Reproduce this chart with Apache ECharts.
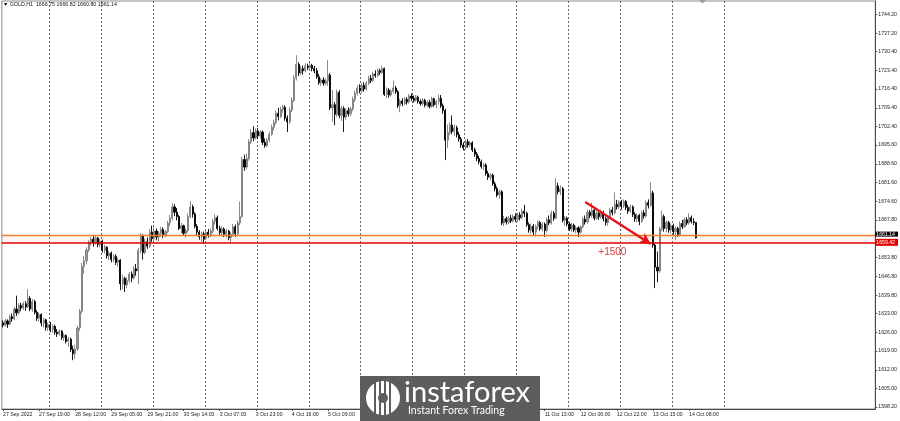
<!DOCTYPE html>
<html><head><meta charset="utf-8">
<script src="https://cdn.jsdelivr.net/npm/echarts@6/dist/echarts.min.js"></script>
<style>html,body{margin:0;padding:0;background:#fff}#c{width:900px;height:421px}</style>
</head><body><div id="c"></div><script>
// ---- DATA ----
const symbolTitle = 'GOLD,H1';
const lastOHLC = ['1666.75', '1666.82', '1660.80', '1661.14'];
const firstLabel = '27 Sep 2022';
// trading days: [label, first hour, last hour]
const tradingDays = [['27 Sep',3,23],['28 Sep',1,23],['29 Sep',1,23],['30 Sep',1,23],['3 Oct',1,23],['4 Oct',1,23],['5 Oct',1,23],['6 Oct',1,23],['7 Oct',1,23],['10 Oct',1,23],['11 Oct',1,23],['12 Oct',1,23],['13 Oct',1,23],['14 Oct',1,23],['17 Oct',1,23],['18 Oct',1,23],['19 Oct',1,23]];
const visibleBars = 387;
// candles: [open, close, low, high]
const sep27 = [[1629.5,1628.6,1627.8,1630.4],[1628.6,1630.2,1628.0,1631.0],[1630.2,1629.0,1627.6,1630.8],[1629.0,1631.8,1628.6,1632.5],[1631.8,1631.0,1629.9,1633.0],[1631.0,1634.6,1630.5,1635.4],[1634.6,1633.2,1632.0,1639.6],[1633.2,1636.0,1632.6,1636.8],[1636.0,1635.0,1633.8,1637.0],[1635.0,1636.6,1634.2,1637.4],[1636.6,1635.4,1634.0,1637.6],[1635.4,1638.6,1635.0,1642.0],[1638.6,1634.6,1633.8,1639.4],[1634.6,1637.4,1633.6,1638.4],[1637.4,1633.4,1632.6,1638.0],[1633.4,1631.2,1630.2,1634.2],[1631.2,1632.6,1630.0,1633.4],[1632.6,1629.4,1628.2,1633.0],[1629.4,1630.6,1627.8,1631.4],[1630.6,1627.8,1626.6,1631.0],[1627.8,1628.8,1626.4,1629.6]];
const sep28 = [[1628.8,1627.0,1626.0,1629.8],[1627.0,1628.2,1625.8,1629.0],[1628.2,1626.0,1625.0,1628.8],[1626.0,1625.4,1624.2,1627.2],[1625.4,1626.4,1624.6,1627.0],[1626.4,1624.0,1623.2,1626.8],[1624.0,1624.8,1622.8,1625.6],[1624.8,1622.6,1621.8,1625.2],[1622.6,1623.4,1620.6,1624.2],[1623.4,1619.6,1618.6,1624.0],[1619.6,1618.0,1615.6,1621.0],[1618.0,1619.8,1616.0,1621.4],[1619.8,1627.6,1619.0,1628.4],[1627.6,1633.8,1626.6,1634.6],[1633.8,1650.4,1633.0,1651.8],[1650.4,1652.6,1647.8,1654.4],[1652.6,1656.6,1651.2,1657.6],[1656.6,1659.4,1655.8,1660.2],[1659.4,1660.6,1658.2,1661.4],[1660.6,1659.2,1657.8,1662.0],[1659.2,1661.0,1658.6,1661.8],[1661.0,1658.6,1657.6,1661.4],[1658.6,1659.8,1657.6,1660.6]];
const sep29 = [[1659.8,1656.4,1655.6,1660.4],[1656.4,1657.6,1655.2,1658.6],[1657.6,1654.4,1653.4,1658.0],[1654.4,1655.4,1652.8,1656.2],[1655.4,1653.0,1652.0,1656.0],[1653.0,1654.2,1652.0,1655.0],[1654.2,1652.0,1651.0,1655.0],[1652.0,1652.8,1650.4,1653.6],[1652.8,1644.0,1641.6,1653.2],[1644.0,1646.0,1642.0,1647.4],[1646.0,1643.6,1641.0,1646.6],[1643.6,1645.2,1642.4,1646.4],[1645.2,1647.6,1644.2,1648.4],[1647.6,1646.2,1644.6,1648.6],[1646.2,1649.6,1645.6,1650.6],[1649.6,1648.8,1647.0,1651.4],[1648.8,1656.4,1643.8,1657.4],[1656.4,1661.8,1655.4,1662.8],[1661.8,1655.6,1653.0,1662.4],[1655.6,1659.6,1655.0,1660.8],[1659.6,1658.0,1657.0,1661.2],[1658.0,1663.2,1657.4,1664.4],[1663.2,1660.8,1659.6,1665.6]];
const sep30 = [[1660.8,1663.6,1660.0,1665.0],[1663.6,1661.4,1660.2,1664.6],[1661.4,1662.8,1659.8,1663.6],[1662.8,1664.2,1661.6,1665.2],[1664.2,1662.0,1661.0,1665.0],[1662.0,1663.4,1661.4,1664.0],[1663.4,1666.6,1662.8,1667.4],[1666.6,1668.4,1665.4,1669.6],[1668.4,1672.6,1667.6,1674.0],[1672.6,1670.6,1669.2,1673.6],[1670.6,1669.0,1667.6,1672.2],[1669.0,1664.6,1664.0,1669.6],[1664.6,1665.6,1662.8,1666.6],[1665.6,1662.8,1662.0,1666.0],[1662.8,1663.8,1661.2,1664.6],[1663.8,1669.0,1663.0,1670.2],[1669.0,1672.6,1668.4,1674.8],[1672.6,1670.0,1668.6,1673.4],[1670.0,1665.4,1664.6,1670.6],[1665.4,1663.2,1662.2,1666.2],[1663.2,1661.6,1660.4,1664.0],[1661.6,1662.6,1659.6,1663.4],[1662.6,1660.6,1659.0,1663.4]];
const oct03 = [[1661.0,1663.2,1660.4,1664.2],[1663.2,1662.0,1661.2,1664.4],[1662.0,1663.6,1661.4,1664.6],[1663.6,1667.2,1662.8,1668.2],[1667.2,1668.6,1666.0,1669.8],[1668.6,1664.6,1663.8,1669.4],[1664.6,1663.0,1662.2,1665.6],[1663.0,1664.4,1662.0,1665.4],[1664.4,1662.4,1661.4,1665.0],[1662.4,1663.6,1661.2,1664.4],[1663.6,1661.2,1660.2,1664.0],[1661.2,1662.4,1659.2,1663.2],[1662.4,1665.2,1661.6,1666.2],[1665.2,1662.6,1661.4,1666.0],[1662.6,1666.6,1662.0,1667.6],[1666.6,1669.0,1665.8,1674.6],[1669.0,1690.2,1668.6,1691.2],[1690.2,1687.4,1686.0,1692.0],[1687.4,1690.6,1686.6,1692.4],[1690.6,1696.8,1689.8,1697.8],[1696.8,1700.2,1696.0,1701.6],[1700.2,1698.2,1697.0,1702.6],[1698.2,1700.8,1697.6,1701.8]];
const oct04 = [[1700.8,1699.0,1697.8,1702.0],[1699.0,1700.4,1698.0,1701.2],[1700.4,1696.6,1695.6,1701.0],[1696.6,1695.4,1694.6,1698.0],[1695.4,1697.4,1694.8,1698.2],[1697.4,1699.6,1696.6,1700.6],[1699.6,1702.2,1699.0,1703.2],[1702.2,1704.0,1701.0,1705.0],[1704.0,1707.4,1703.2,1708.4],[1707.4,1706.2,1704.8,1709.4],[1706.2,1708.8,1705.6,1709.8],[1708.8,1709.6,1707.6,1710.6],[1709.6,1705.6,1704.6,1710.4],[1705.6,1704.2,1700.4,1706.6],[1704.2,1708.6,1703.4,1709.6],[1708.6,1712.2,1707.8,1713.4],[1712.2,1720.4,1711.6,1721.6],[1720.4,1725.6,1719.6,1729.0],[1725.6,1722.4,1721.2,1726.4],[1722.4,1724.0,1721.6,1725.0],[1724.0,1723.2,1721.8,1725.2],[1723.2,1725.0,1722.6,1726.0],[1725.0,1724.4,1723.4,1725.8]];
const oct05 = [[1724.4,1725.2,1723.6,1726.2],[1725.2,1724.0,1723.0,1725.8],[1724.0,1723.2,1722.2,1725.0],[1723.2,1721.0,1720.2,1724.2],[1721.0,1718.8,1718.0,1722.0],[1718.8,1719.8,1717.6,1720.6],[1719.8,1718.6,1717.6,1720.8],[1718.6,1719.4,1717.8,1720.4],[1719.4,1721.6,1717.6,1727.2],[1721.6,1709.4,1708.6,1722.4],[1709.4,1710.6,1704.2,1716.0],[1710.6,1707.0,1703.0,1711.6],[1707.0,1715.2,1706.0,1716.2],[1715.2,1706.6,1705.6,1716.0],[1706.6,1709.2,1704.6,1710.2],[1709.2,1706.0,1700.4,1710.0],[1706.0,1708.4,1705.0,1709.2],[1708.4,1707.2,1706.2,1709.6],[1707.2,1709.0,1706.4,1709.8],[1709.0,1712.6,1708.2,1713.6],[1712.6,1714.8,1711.6,1715.8],[1714.8,1716.8,1714.0,1717.8],[1716.8,1715.8,1714.8,1718.2]];
const oct06 = [[1715.8,1717.8,1715.0,1718.6],[1717.8,1716.4,1715.4,1719.0],[1716.4,1718.6,1715.8,1719.4],[1718.6,1720.4,1717.8,1721.4],[1720.4,1719.6,1718.6,1721.6],[1719.6,1722.0,1719.0,1722.8],[1722.0,1721.4,1720.6,1723.4],[1721.4,1723.2,1720.8,1724.0],[1723.2,1722.6,1721.6,1724.0],[1722.6,1724.0,1722.0,1725.0],[1724.0,1714.4,1713.8,1724.4],[1714.4,1716.0,1713.0,1717.0],[1716.0,1714.2,1713.2,1716.8],[1714.2,1715.6,1713.6,1716.4],[1715.6,1716.8,1714.8,1719.6],[1716.8,1715.4,1714.6,1717.6],[1715.4,1710.2,1709.4,1716.0],[1710.2,1712.0,1707.8,1712.8],[1712.0,1711.0,1710.0,1713.0],[1711.0,1712.6,1710.4,1713.4],[1712.6,1711.6,1710.6,1713.4],[1711.6,1713.8,1711.0,1714.6],[1713.8,1713.0,1712.0,1714.8]];
const oct07 = [[1713.0,1712.2,1711.4,1714.0],[1712.2,1713.4,1711.6,1714.2],[1713.4,1711.8,1711.0,1714.0],[1711.8,1711.0,1710.2,1712.6],[1711.0,1712.2,1710.2,1713.0],[1712.2,1710.4,1709.6,1712.8],[1710.4,1711.4,1709.6,1712.2],[1711.4,1710.0,1709.2,1712.4],[1710.0,1712.8,1709.4,1713.6],[1712.8,1710.6,1709.8,1713.2],[1710.6,1711.8,1709.2,1712.4],[1711.8,1713.0,1710.6,1714.4],[1713.0,1710.2,1709.4,1714.2],[1710.2,1708.4,1707.2,1711.0],[1708.4,1697.4,1690.0,1709.0],[1697.4,1700.2,1694.4,1703.2],[1700.2,1703.0,1699.4,1704.0],[1703.0,1700.6,1699.6,1706.6],[1700.6,1702.0,1699.0,1703.2],[1702.0,1699.4,1698.4,1702.8],[1699.4,1697.8,1696.8,1700.4],[1697.8,1695.6,1694.6,1698.6],[1695.6,1694.6,1693.6,1696.6]];
const oct10 = [[1694.6,1696.8,1693.8,1697.6],[1696.8,1695.6,1694.6,1697.8],[1695.6,1696.4,1694.8,1697.2],[1696.4,1693.8,1693.0,1697.0],[1693.8,1692.2,1691.2,1694.6],[1692.2,1690.6,1689.6,1693.0],[1690.6,1689.4,1688.4,1691.6],[1689.4,1687.6,1686.8,1690.2],[1687.6,1688.2,1686.2,1689.0],[1688.2,1685.0,1684.2,1688.8],[1685.0,1683.6,1682.6,1686.0],[1683.6,1684.4,1682.4,1685.2],[1684.4,1681.2,1680.4,1685.0],[1681.2,1679.4,1678.4,1682.0],[1679.4,1677.0,1676.2,1680.2],[1677.0,1678.2,1675.6,1679.0],[1678.2,1666.6,1665.8,1678.8],[1666.6,1668.2,1665.4,1669.2],[1668.2,1667.0,1666.0,1669.0],[1667.0,1668.4,1666.2,1669.2],[1668.4,1667.4,1666.6,1669.6],[1667.4,1669.0,1666.8,1669.8],[1669.0,1668.0,1667.0,1670.2]];
const oct11 = [[1668.0,1669.6,1667.0,1670.4],[1669.6,1668.6,1667.6,1670.6],[1668.6,1671.0,1668.0,1672.0],[1671.0,1670.2,1668.8,1673.4],[1670.2,1666.0,1665.2,1670.8],[1666.0,1664.0,1663.0,1666.8],[1664.0,1665.4,1662.6,1666.4],[1665.4,1663.2,1661.8,1666.2],[1663.2,1665.2,1661.6,1666.0],[1665.2,1666.8,1664.2,1667.6],[1666.8,1664.4,1663.6,1667.4],[1664.4,1666.2,1663.4,1667.0],[1666.2,1663.8,1661.4,1666.8],[1663.8,1667.8,1663.0,1668.6],[1667.8,1666.6,1665.8,1669.4],[1666.6,1670.2,1666.0,1671.2],[1670.2,1668.4,1667.4,1671.0],[1668.4,1680.4,1668.0,1683.2],[1680.4,1678.2,1677.2,1681.6],[1678.2,1679.4,1677.0,1680.6],[1679.4,1667.6,1666.8,1680.0],[1667.6,1668.4,1665.6,1669.2],[1668.4,1666.2,1665.4,1669.0]];
const oct12 = [[1666.2,1664.4,1663.6,1667.0],[1664.4,1665.8,1663.4,1666.6],[1665.8,1664.0,1663.2,1666.4],[1664.0,1664.8,1662.8,1665.6],[1664.8,1663.2,1661.4,1665.4],[1663.2,1665.2,1662.6,1665.8],[1665.2,1668.0,1664.6,1668.8],[1668.0,1667.0,1666.0,1669.4],[1667.0,1670.6,1666.4,1671.6],[1670.6,1669.4,1668.4,1671.4],[1669.4,1671.4,1668.6,1674.2],[1671.4,1668.4,1667.6,1672.2],[1668.4,1670.2,1667.8,1671.0],[1670.2,1669.0,1667.8,1671.2],[1669.0,1670.6,1668.2,1671.6],[1670.6,1668.2,1667.2,1671.2],[1668.2,1666.8,1665.6,1669.0],[1666.8,1668.6,1665.6,1669.4],[1668.6,1671.4,1668.0,1672.2],[1671.4,1670.4,1669.4,1672.6],[1670.4,1673.6,1669.8,1678.0],[1673.6,1672.6,1671.6,1675.2],[1672.6,1674.4,1671.8,1675.2]];
const oct13 = [[1674.4,1673.0,1671.6,1675.2],[1673.0,1674.6,1672.2,1675.4],[1674.6,1672.4,1671.4,1675.2],[1672.4,1671.0,1670.0,1673.4],[1671.0,1672.6,1670.2,1673.4],[1672.6,1669.8,1668.8,1673.2],[1669.8,1668.2,1667.0,1670.6],[1668.2,1669.4,1666.8,1670.2],[1669.4,1667.2,1665.8,1670.0],[1667.2,1670.4,1666.6,1671.2],[1670.4,1669.2,1668.2,1671.4],[1669.2,1674.2,1668.6,1675.0],[1674.2,1673.2,1672.0,1675.4],[1673.2,1677.8,1672.6,1681.8],[1677.8,1658.4,1657.4,1678.6],[1658.4,1650.2,1642.4,1659.0],[1650.2,1648.8,1644.6,1656.0],[1648.8,1664.4,1648.0,1665.2],[1664.4,1669.0,1663.6,1671.2],[1669.0,1664.6,1663.4,1669.8],[1664.6,1666.8,1663.2,1667.6],[1666.8,1664.0,1663.0,1667.4],[1664.0,1665.6,1662.8,1666.4]];
const oct14 = [[1665.6,1663.4,1662.2,1666.4],[1663.4,1664.6,1660.2,1665.4],[1664.6,1662.2,1661.4,1665.2],[1662.2,1666.4,1661.6,1667.2],[1666.4,1665.2,1664.4,1667.8],[1665.2,1667.8,1664.8,1668.6],[1667.8,1666.6,1665.8,1668.8],[1666.6,1668.6,1666.0,1670.2],[1668.6,1667.2,1666.4,1669.4],[1667.2,1666.75,1665.8,1668.4],[1666.75,1661.14,1660.80,1666.82]];
const priceTicks = [1598.20,1605.00,1612.00,1619.00,1626.00,1633.00,1639.80,1646.80,1653.80,1667.80,1674.60,1681.60,1688.60,1695.60,1702.40,1709.40,1716.40,1723.40,1730.40,1737.20,1744.20];
const yRange = [1597.46, 1749.14];
const bidPrice = 1661.14;
const orangeLevel = 1662.1;
const redLevel = 1659.42;
const arrowStart = [258, 1674.4];
const arrowEnd = [287, 1658.8];
const noteText = '+1500';
const notePos = [270, 1655.8];
const barsPerDay = 23, firstDaySeparator = 21, lastDaySeparator = 320, labelEvery = 16;

// ---- BUILD ----
const candles = [].concat(sep27, sep28, sep29, sep30, oct03, oct04, oct05, oct06, oct07, oct10, oct11, oct12, oct13, oct14);
const pad = n => (n < 10 ? '0' : '') + n;
const categories = [];
tradingDays.forEach(d => { for (let h = d[1]; h <= d[2]; h++) categories.push(d[0] + ' ' + pad(h) + ':00'); });
categories.length = visibleBars;
const lastLabel = Math.floor((candles.length - 1) / labelEvery) * labelEvery;
const showLabel = i => i % labelEvery === 0 && i <= lastLabel;

const chart = echarts.init(document.getElementById('c'), null, {renderer: 'canvas'});
const F = 'Liberation Sans, Arial, sans-serif';
chart.setOption({
  animation: false,
  grid: {left: 1.7, right: 21, top: 1, bottom: 12, show: true, borderColor: '#8c8c8c', borderWidth: 1},
  xAxis: {
    type: 'category', data: categories, boundaryGap: true,
    axisLine: {show: true, lineStyle: {color: '#4a4a4a', width: 1}},
    axisTick: {show: true, alignWithLabel: true, length: 2, interval: i => showLabel(i), lineStyle: {color: '#4a4a4a'}},
    axisLabel: {interval: i => showLabel(i), formatter: (v, i) => i === 0 ? firstLabel : v, align: 'left',
      fontSize: 5.2, color: '#222', margin: 3, fontFamily: F},
    splitLine: {show: true, interval: i => i >= firstDaySeparator && i <= lastDaySeparator && (i - firstDaySeparator) % barsPerDay === 0,
      lineStyle: {color: '#666', type: [2, 2], width: 1}}
  },
  yAxis: {
    type: 'value', position: 'right', min: yRange[0], max: yRange[1],
    axisLine: {show: true, lineStyle: {color: '#4a4a4a'}},
    axisTick: {show: true, customValues: priceTicks, length: 2, lineStyle: {color: '#4a4a4a'}},
    axisLabel: {customValues: priceTicks, formatter: v => Number(v).toFixed(2), fontSize: 5.2, margin: 3, color: '#222', fontFamily: F},
    splitLine: {show: false}
  },
  series: [{
    type: 'candlestick', data: candles, barWidth: 1.6,
    itemStyle: {color: '#979797', color0: '#000000', borderColor: '#7e7e7e', borderColor0: '#000000', borderWidth: 0.9},
    markArea: {silent: true, z: 1, itemStyle: {color: 'rgba(215,175,160,0.12)'}, data: [[{yAxis: redLevel}, {yAxis: orangeLevel}]]},
    markLine: {
      silent: true, symbol: 'none', animation: false, z: 6,
      data: [
        {yAxis: orangeLevel, lineStyle: {color: '#ee7f30', width: 1.3, type: 'solid', opacity: 1},
          label: {show: true, position: 'end', distance: 0, formatter: bidPrice.toFixed(2), backgroundColor: '#000', color: '#fff',
            fontSize: 5.2, fontFamily: F, padding: [0, 3, 0, 1], offset: [0, -1]}},
        {yAxis: redLevel, lineStyle: {color: '#e00000', width: 1.7, type: 'solid'},
          label: {show: true, position: 'end', distance: 0, formatter: redLevel.toFixed(2), backgroundColor: '#e00000', color: '#fff',
            fontSize: 5.2, fontFamily: F, padding: [1, 3, 1, 1], offset: [0, 0]}},
        [{coord: arrowStart, symbol: 'none'}, {coord: arrowEnd, symbol: 'arrow', symbolSize: [9, 11],
          lineStyle: {color: '#e8141a', width: 2.4, type: 'solid'}, label: {show: false}}]
      ]
    },
    markPoint: {
      silent: true, animation: false,
      data: [{coord: notePos, symbol: 'circle', symbolSize: 1, itemStyle: {color: 'rgba(0,0,0,0)'},
        label: {show: true, position: 'inside', formatter: noteText, color: '#e53935', fontSize: 10, fontFamily: F}}]
    }
  }],
  graphic: [
    {type: 'text', left: 3, top: 2, z: 10, style: {text: '\u25BC ' + symbolTitle + '  ' + lastOHLC.join(' '), font: '5.3px ' + F, fill: '#111'}},
    {type: 'polygon', z: 10, shape: {points: [[699, 0], [706, 0], [702.5, 3.5]]}, style: {fill: '#9a9a9a'}},
    {type: 'group', left: 360, top: 376, zlevel: 5, z: 100, children: [
      {type: 'rect', zlevel: 5, shape: {x: 0, y: 0, width: 180, height: 46}, style: {fill: '#5d5d5d'}},
      {type: 'circle', zlevel: 5, shape: {cx: 23, cy: 22, r: 17}, style: {fill: '#fff'}},
      {type: 'rect', zlevel: 5, shape: {x: 14, y: 6, width: 2, height: 32}, style: {fill: '#5d5d5d'}},
      {type: 'rect', zlevel: 5, shape: {x: 19, y: 4, width: 2, height: 36}, style: {fill: '#5d5d5d'}},
      {type: 'rect', zlevel: 5, shape: {x: 24, y: 4, width: 2, height: 36}, style: {fill: '#5d5d5d'}},
      {type: 'rect', zlevel: 5, shape: {x: 29, y: 6, width: 2, height: 32}, style: {fill: '#5d5d5d'}},
      {type: 'circle', zlevel: 5, shape: {cx: 23, cy: 22, r: 5}, style: {fill: '#5d5d5d'}},
      {type: 'text', zlevel: 5, x: 44, y: 2, style: {text: 'instaforex', font: '29px Lato, "Open Sans", sans-serif', fill: '#fff'}},
      {type: 'text', zlevel: 5, x: 48, y: 29, style: {text: 'Instant Forex Trading', font: '10.5px Lato, "Open Sans", sans-serif', fill: '#fff'}}
    ]}
  ]
});
</script></body></html>
